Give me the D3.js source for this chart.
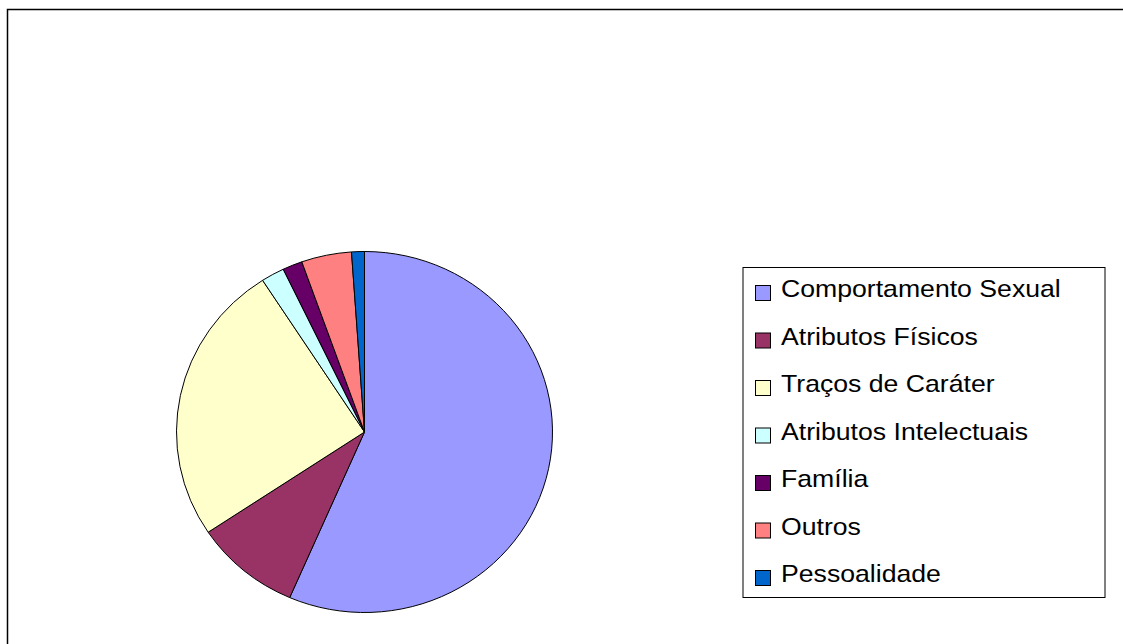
<!DOCTYPE html>
<html>
<head>
<meta charset="utf-8">
<script src="https://cdn.jsdelivr.net/npm/d3@7"></script>
<style>
  html, body { margin: 0; padding: 0; background: #fff; }
  svg { display: block; }
</style>
</head>
<body>
<div id="chart"></div>
<script>
const categories = ['Comportamento Sexual', 'Atributos Físicos', 'Traços de Caráter',
  'Atributos Intelectuais', 'Família', 'Outros', 'Pessoalidade']
const values = [56.4, 9.1, 25.2, 2.0, 1.7, 4.3, 1.1]
const colors = ['#9999ff', '#993366', '#ffffcc', '#ccffff', '#660066', '#ff8080', '#0066cc']

const width = 1123
const height = 644

const svg = d3.select('#chart').append('svg')
  .attr('width', width)
  .attr('height', height)

// outer chart frame (runs off right/bottom edge)
svg.append('rect')
  .attr('x', 7.5).attr('y', 9.5)
  .attr('width', 1130).attr('height', 650)
  .attr('fill', 'none')
  .attr('stroke', '#000')
  .attr('stroke-width', 1.5)

// pie (slightly elliptical, like the original)
const rx = 188
const ry = 180.5
const pie = d3.pie().sort(null).value(d => d)
const arc = d3.arc().innerRadius(0).outerRadius(rx)

const g = svg.append('g')
  .attr('transform', `translate(364.5,432) scale(1,${ry / rx})`)

g.selectAll('path')
  .data(pie(values))
  .join('path')
  .attr('d', arc)
  .attr('fill', (d, i) => colors[i])
  .attr('stroke', '#000')
  .attr('stroke-width', 1)
  .attr('vector-effect', 'non-scaling-stroke')

// legend
const legend = svg.append('g')
svg.append('rect')
  .attr('x', 743).attr('y', 267.5)
  .attr('width', 362).attr('height', 330)
  .attr('fill', 'none')
  .attr('stroke', '#000')
  .attr('stroke-width', 1)

const rowY = d3.scalePoint().domain(categories).range([297, 582])

const items = legend.selectAll('g.item')
  .data(categories)
  .join('g')
  .attr('class', 'item')
  .attr('transform', d => `translate(0,${rowY(d)})`)

items.append('rect')
  .attr('x', 755.5).attr('y', -11.5)
  .attr('width', 15).attr('height', 15)
  .attr('fill', (d, i) => colors[i])
  .attr('stroke', '#000')
  .attr('stroke-width', 1)

// original text is a bit wider than Liberation Sans at the same height
items.append('text')
  .attr('transform', 'translate(781,0) scale(1.11,1)')
  .attr('font-family', 'Liberation Sans, Arial, sans-serif')
  .attr('font-size', 24)
  .attr('fill', '#000')
  .text(d => d)
</script>
</body>
</html>
